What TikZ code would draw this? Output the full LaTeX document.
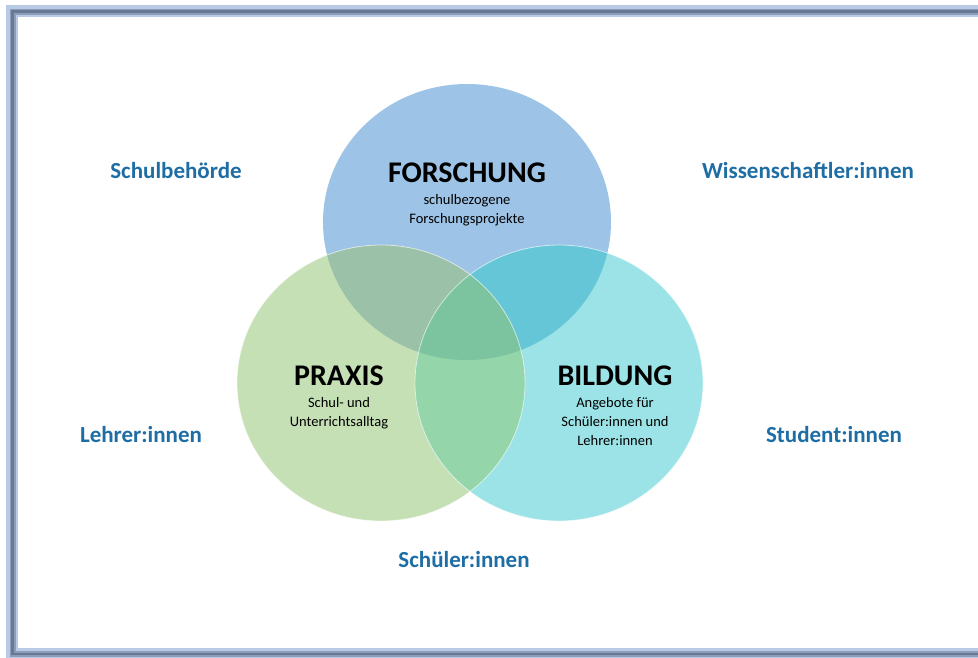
\documentclass[tikz,border=0pt]{standalone}
\usepackage{fontspec}
\setmainfont{Carlito}
\usetikzlibrary{positioning}
\definecolor{forsch}{RGB}{157,195,230}
\definecolor{praxis}{RGB}{197,224,180}
\definecolor{bildung}{RGB}{155,227,230}
\definecolor{fp}{RGB}{155,193,168}
\definecolor{fb}{RGB}{101,198,216}
\definecolor{pb}{RGB}{148,213,170}
\definecolor{fpb}{RGB}{124,196,160}
\definecolor{grpblue}{RGB}{30,110,165}
\definecolor{framelight}{RGB}{184,202,230}
\definecolor{framemid}{RGB}{140,157,185}
\definecolor{framedark}{RGB}{105,120,148}
\newcommand{\kreisF}{(467,222) ellipse [x radius=144pt, y radius=138pt]}
\newcommand{\kreisP}{(381,383) ellipse [x radius=144pt, y radius=138pt]}
\newcommand{\kreisB}{(559,383) ellipse [x radius=144pt, y radius=138pt]}

\begin{document}
\begin{tikzpicture}[x=1pt,y=-1pt,
    title/.style={font=\bfseries\fontsize{30}{33}\selectfont},
    sub/.style={font=\fontsize{14.5}{19}\selectfont, align=center},
    group/.style={font=\bfseries\fontsize{23}{26}\selectfont, text=grpblue}]
  \useasboundingbox (0,0) rectangle (978,657);
  \fill[white] (0,0) rectangle (978,657);
  % rahmen
  \draw[line width=12, framelight] (12,11) rectangle (995,654);
  \draw[line width=6, framemid] (12.5,11.5) rectangle (995,654);
  \draw[line width=2.5, framedark] (12.5,11.5) rectangle (995,654);

  % kreise
  \fill[forsch] \kreisF;
  \fill[praxis] \kreisP;
  \fill[bildung] \kreisB;
  \begin{scope}
    \clip \kreisF;
    \fill[fp] \kreisP;
    \fill[fb] \kreisB;
  \end{scope}
  \begin{scope}
    \clip \kreisP;
    \fill[pb] \kreisB;
  \end{scope}
  \begin{scope}
    \clip \kreisF;
    \clip \kreisP;
    \fill[fpb] \kreisB;
  \end{scope}
  \draw[white, opacity=.6, line width=.8] \kreisP;
  \draw[white, opacity=.6, line width=.8] \kreisB;

  % texte
  \node[title] (forschung) at (467,173) {FORSCHUNG};
  \node[sub, below=4pt of forschung] (forschungtxt) {schulbezogene\\Forschungsprojekte};
  \node[title] (praxis) at (339,376) {PRAXIS};
  \node[sub, below=4pt of praxis] (praxistxt) {Schul- und\\Unterrichtsalltag};
  \node[title] (bildung) at (615,376) {BILDUNG};
  \node[sub, below=4pt of bildung] (bildungtxt) {Angebote für\\Schüler:innen und\\Lehrer:innen};

  % gruppen
  \node[group] (behoerde) at (176,171) {Schulbehörde};
  \node[group] (wiss) at (808,171) {Wissenschaftler:innen};
  \node[group] (lehrer) at (141,435) {Lehrer:innen};
  \node[group] (studenten) at (834,435) {Student:innen};
  \node[group] (schueler) at (464,560) {Schüler:innen};
\end{tikzpicture}
\end{document}
